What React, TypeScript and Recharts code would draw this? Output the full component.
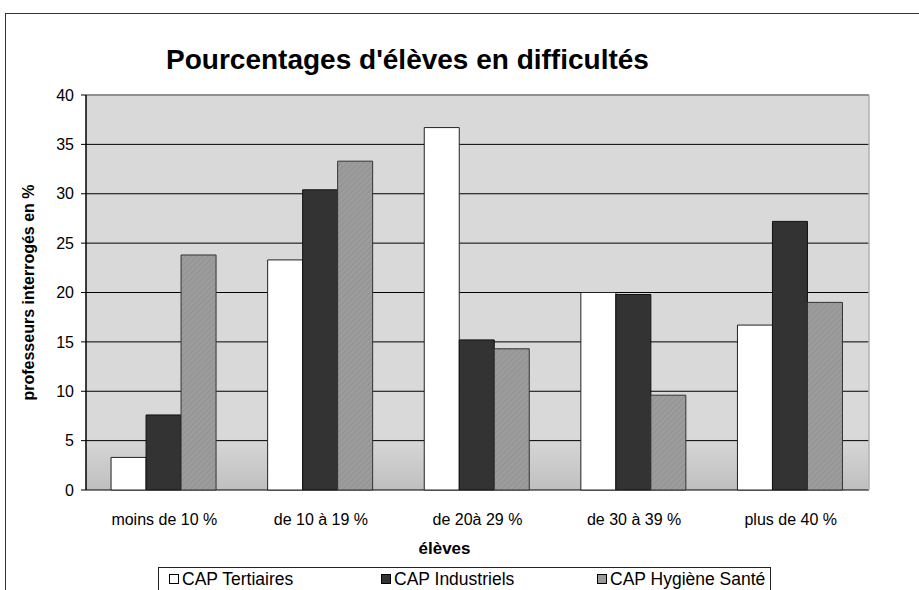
import React from "react";
import { BarChart, Bar, XAxis, YAxis, CartesianGrid, ReferenceLine } from "recharts";

const categories = ["moins de 10 %", "de 10 à 19 %", "de 20à 29 %", "de 30 à 39 %", "plus de 40 %"];
const tertiaires = [3.3, 23.3, 36.7, 20.0, 16.7];
const industriels = [7.6, 30.4, 15.2, 19.8, 27.2];
const hygiene = [23.8, 33.3, 14.3, 9.6, 19.0];
const yTicks = [0, 5, 10, 15, 20, 25, 30, 35, 40];
const boundaryTicks = [0, 1, 2, 3, 4, 5];

const seriesNames = ["CAP Tertiaires", "CAP Industriels", "CAP Hygiène Santé"];

const data = categories.map((c, i) => ({
  cat: c,
  idx: i + 0.5,
  t: tertiaires[i],
  ind: industriels[i],
  h: hygiene[i],
}));

const FONT = "'Liberation Sans', Arial, sans-serif";

export default function App() {
  const legendItems = [
    { name: seriesNames[0], fill: "#ffffff", left: 169 },
    { name: seriesNames[1], fill: "#333333", left: 381 },
    { name: seriesNames[2], fill: "#9a9a9a", left: 597 },
  ];
  return (
    <div style={{ position: "absolute", left: 0, top: 0, width: 919, height: 590, overflow: "hidden", background: "#fff", fontFamily: FONT }}>
      <div style={{ position: "absolute", left: 5, top: 13, width: 1000, height: 700, border: "1.5px solid #333", boxSizing: "border-box" }} />
      <div style={{ position: "absolute", left: 0, top: 44, width: 815, textAlign: "center", fontSize: 28, lineHeight: "32px", fontWeight: "bold", color: "#000" }}>
        Pourcentages d'élèves en difficultés
      </div>
      <div style={{ position: "absolute", left: 0, top: 0 }}>
        <BarChart width={919} height={590} data={data} margin={{ top: 95, right: 50, left: 0, bottom: 30 }} barCategoryGap="16%" barGap={0}>
          <defs>
            <linearGradient id="bg" x1="0" y1="0" x2="0" y2="1">
              <stop offset="0%" stopColor="#d9d9d9" />
              <stop offset="86%" stopColor="#d9d9d9" />
              <stop offset="100%" stopColor="#bfbfbf" />
            </linearGradient>
            <pattern id="hatch" width="4" height="4" patternUnits="userSpaceOnUse" patternTransform="rotate(45)">
              <rect width="4" height="4" fill="#9c9c9c" />
              <line x1="0" y1="0" x2="0" y2="4" stroke="#8e8e8e" strokeWidth="1.5" />
            </pattern>
          </defs>
          <CartesianGrid vertical={false} stroke="#000" fill="url(#bg)" fillOpacity={1} />
          <XAxis
            xAxisId="b"
            type="number"
            dataKey="idx"
            domain={[0, 5]}
            ticks={boundaryTicks}
            allowDataOverflow
            height={0}
            tick={{ fill: "none", fontSize: 1 }}
            tickLine={{ stroke: "#000", strokeWidth: 1.5 }}
            tickSize={6}
            axisLine={{ stroke: "#000", strokeWidth: 1.5 }}
          />
          <XAxis
            xAxisId="cat"
            dataKey="cat"
            height={70}
            tickLine={false}
            axisLine={false}
            interval={0}
            tick={{ fontSize: 16, fill: "#000", fontFamily: FONT, dy: 16 }}
            label={{ value: "élèves", position: "insideTop", dy: 47, dx: -33, style: { fontSize: 17, fontWeight: "bold", fill: "#000", fontFamily: FONT } }}
          />
          <YAxis
            domain={[0, 40]}
            ticks={yTicks}
            width={86}
            tickSize={5}
            tickMargin={7}
            tickLine={{ stroke: "#000" }}
            axisLine={{ stroke: "#000", strokeWidth: 1.5 }}
            tick={{ fontSize: 16, fill: "#000", fontFamily: FONT }}
            label={{ value: "professeurs interrogés en %", angle: -90, position: "insideLeft", offset: 28, style: { textAnchor: "middle", fontSize: 16, fontWeight: "bold", fill: "#000", fontFamily: FONT } }}
          />
          <ReferenceLine y={40} xAxisId="cat" stroke="#9a9a9a" strokeWidth={1.5} />
          <ReferenceLine x={5} xAxisId="b" stroke="#b0b0b0" strokeWidth={1.5} />
          <Bar xAxisId="cat" dataKey="t" name={seriesNames[0]} fill="#ffffff" stroke="#222" strokeWidth={1} isAnimationActive={false} />
          <Bar xAxisId="cat" dataKey="ind" name={seriesNames[1]} fill="#333333" stroke="#111" strokeWidth={1} isAnimationActive={false} />
          <Bar xAxisId="cat" dataKey="h" name={seriesNames[2]} fill="url(#hatch)" stroke="#333" strokeWidth={1} isAnimationActive={false} />
        </BarChart>
      </div>
      <div style={{ position: "absolute", left: 158, top: 567, width: 613, height: 40, border: "1.5px solid #222", boxSizing: "border-box", background: "#fff" }} />
      {legendItems.map((it) => (
        <div key={it.name} style={{ position: "absolute", left: it.left, top: 569, fontSize: 17.5, lineHeight: "20px", color: "#000", display: "flex", alignItems: "center", whiteSpace: "nowrap" }}>
          <span style={{ display: "inline-block", width: 10, height: 10, background: it.fill, border: "1px solid #000", marginRight: 3, boxSizing: "border-box" }} />
          {it.name}
        </div>
      ))}
    </div>
  );
}
